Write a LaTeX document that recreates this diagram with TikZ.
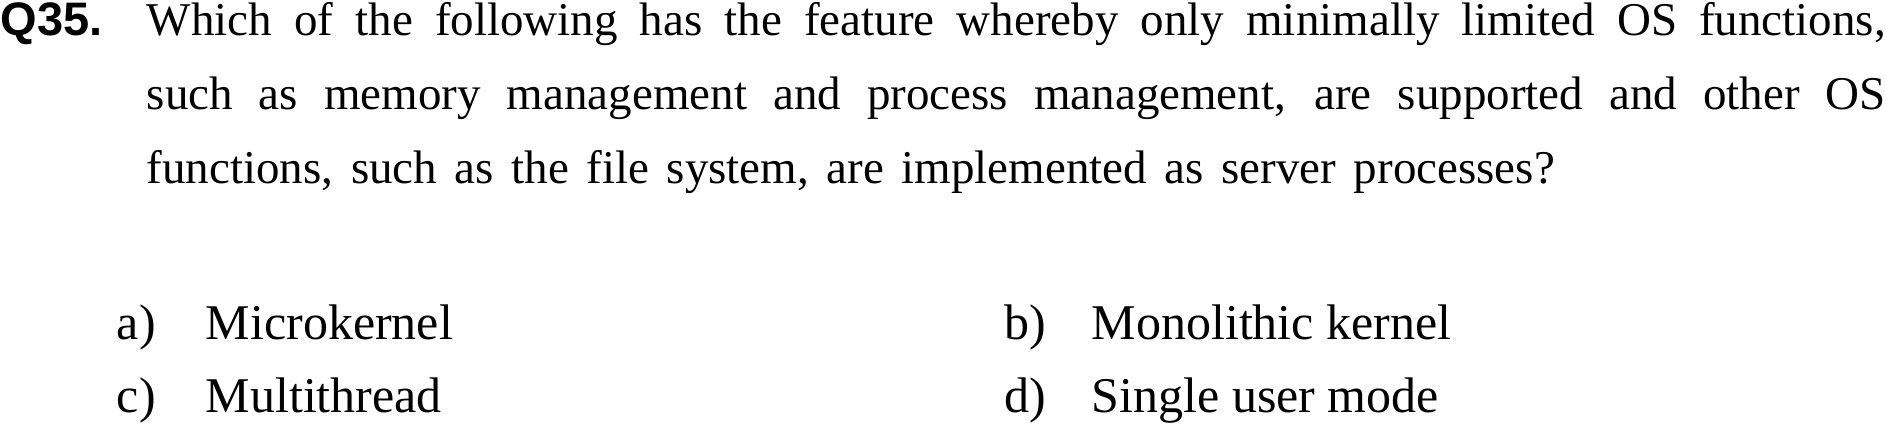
\documentclass[tikz,border=0pt]{standalone}
\usepackage{fontspec}
\setmainfont{Liberation Serif}
\newfontfamily\qnumfont{Liberation Sans}
\usetikzlibrary{positioning}

\newcommand{\qspacing}{\spaceskip=4.4pt plus 4pt minus 1.5pt\relax}

\tikzset{
  qnum/.style={anchor=base west,inner sep=0pt,font=\qnumfont\bfseries\fontsize{11.75}{14}\selectfont},
  qline/.style={anchor=base west,inner sep=0pt,font=\fontsize{11.75}{14}\selectfont\qspacing},
  optlabel/.style={anchor=base west,inner sep=0pt,font=\fontsize{12.5}{14}\selectfont},
}

\begin{document}
\begin{tikzpicture}[x=0.25pt,y=0.25pt]
  \useasboundingbox (0,0) rectangle (1885,426);

  % question
  \node[qnum] (qno) at (0,390) {Q35.};
  \node[qline] (line1) at (146,390) {\makebox[434.75pt][s]{Which of the following has the feature whereby only minimally limited OS functions,}};
  \node[qline] (line2) at (146,316) {\makebox[434.75pt][s]{such as memory management and process management, are supported and other OS}};
  \node[qline] (line3) at (146,242) {functions, such as the file system, are implemented as server processes?};

  % answers
  \node[optlabel] (a) at (116,86) {a)};
  \node[optlabel] (ansa) at (205,86) {Microkernel};
  \node[optlabel] (b) at (1004,86) {b)};
  \node[optlabel] (ansb) at (1091,86) {Monolithic kernel};
  \node[optlabel] (c) at (116,13) {c)};
  \node[optlabel] (ansc) at (205,13) {Multithread};
  \node[optlabel] (d) at (1004,13) {d)};
  \node[optlabel] (ansd) at (1091,13) {Single user mode};
\end{tikzpicture}
\end{document}
